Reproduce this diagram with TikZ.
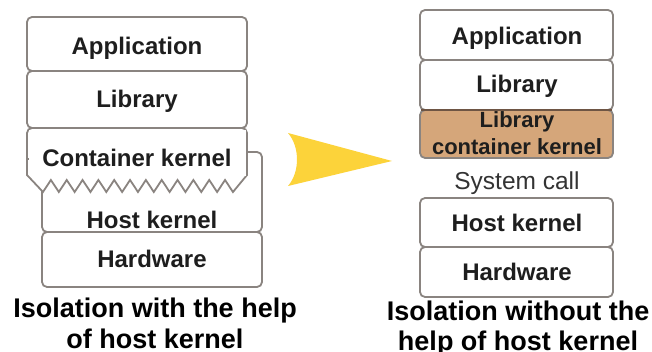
\documentclass[tikz,border=0pt]{standalone}
\usepackage{fontspec}
\setmainfont{Liberation Sans}
\definecolor{edge}{HTML}{8A8480}
\definecolor{txt}{HTML}{1E1E1E}
\definecolor{tan}{HTML}{D5A67A}
\definecolor{brownedge}{HTML}{6E5544}
\definecolor{gold}{HTML}{FCD33A}
\begin{document}
\begin{tikzpicture}[x=1pt,y=-1pt,
  layer/.style={draw=edge,line width=1.8pt,rounded corners=5pt,fill=white,inner sep=0pt},
  lbl/.style={text=txt,font=\fontsize{24}{27}\selectfont\bfseries,inner sep=0pt,anchor=base},
  captxt/.style={text=black,font=\fontsize{27}{30}\selectfont\bfseries,inner sep=0pt,anchor=base}]
\useasboundingbox (0,0) rectangle (652,352);
% ---------- left stack ----------
\node[layer,minimum width=220pt,minimum height=80pt] (lhost) at (152,192) {};
\node[layer,minimum width=220pt,minimum height=55pt] (lhw) at (152,259.5) {};
\path[draw=edge,line width=1.8pt,fill=white,rounded corners=5pt]
  (27,160) -- (27,128) -- (247,128) -- (247,160);
\path[draw=edge,line width=1.8pt,fill=white]
  (27,159) -- (27,175) -- (43,192)
  \foreach \k in {0,...,11} { -- ({43+15.83*\k+7.9},180) -- ({43+15.83*(\k+1)},192) }
  -- (247,175) -- (247,159) -- cycle;
\fill[white] (28.5,130) rectangle (245.5,176);
\node[layer,minimum width=220pt,minimum height=57pt] (llib) at (137,99.5) {};
\node[layer,minimum width=220pt,minimum height=54pt] (lapp) at (137,44) {};
\node[lbl] (tlapp) at (137,55) {Application};
\node[lbl] (tllib) at (137,108) {Library};
\node[lbl] (tlck) at (137,167) {Container kernel};
\node[lbl] (tlhost) at (152,229) {Host kernel};
\node[lbl] (tlhw) at (152,268) {Hardware};
\node[captxt] (capl1) at (155,317) {Isolation with the help};
\node[captxt] (capl2) at (155,348) {of host kernel};
% ---------- arrow ----------
\node[inner sep=0pt] (arr) at (340,160) {};
\fill[gold] (288,133) -- (392,161) -- (288,186) .. controls (300,172) and (300,147) .. cycle;
% ---------- right stack ----------
\node[layer,minimum width=193pt,minimum height=50pt] (rapp) at (516.5,35) {};
\node[layer,minimum width=193pt,minimum height=50pt] (rlib) at (516.5,85) {};
\node[layer,fill=tan,minimum width=193pt,minimum height=48pt] (rlck) at (516.5,134) {};
\draw[brownedge,line width=1.8pt] (421,110) -- (612,110);
\node[layer,minimum width=193pt,minimum height=49pt] (rhost) at (516.5,222.5) {};
\node[layer,minimum width=193pt,minimum height=50pt] (rhw) at (516.5,272) {};
\node[lbl] (trapp) at (517,45) {Application};
\node[lbl] (trlib) at (517,93) {Library};
\node[lbl,font=\fontsize{22}{25}\selectfont\bfseries] (trlck1) at (517,128) {Library};
\node[lbl,font=\fontsize{22}{25}\selectfont\bfseries] (trlck2) at (517,155) {container kernel};
\node[lbl,font=\fontsize{24.5}{27}\selectfont,text=black!80] (tsys) at (517,190) {System call};
\node[lbl] (trhost) at (517,232) {Host kernel};
\node[lbl] (trhw) at (517,280) {Hardware};
\node[captxt] (capr1) at (518,320) {Isolation without the};
\node[captxt] (capr2) at (518,350) {help of host kernel};
\end{tikzpicture}
\end{document}
